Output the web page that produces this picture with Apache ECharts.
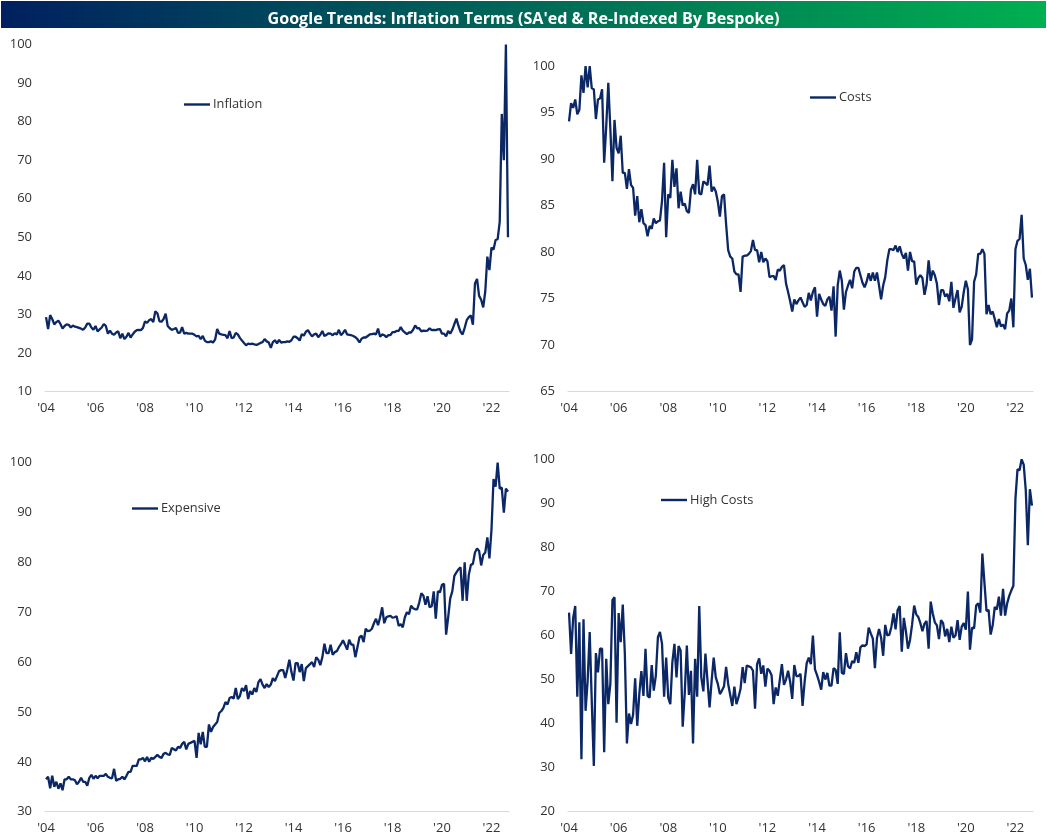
<!DOCTYPE html>
<html lang="en">
<head>
    <meta charset="UTF-8">
    <title>Google Trends: Inflation Terms</title>
    <script src="https://cdn.jsdelivr.net/npm/echarts@6/dist/echarts.min.js"></script>
    <style>
        body { margin: 0; background: #fff; }
        #chart { width: 1047px; height: 838px; }
    </style>
</head>
<body>
<div id="chart"></div>

<script>
    // Monthly readings, Jan 2004 - Sep 2022, one row per year
    var inflation = [
        29.3,26.2,29.8,28.8,27.4,28.0,28.4,27.5,26.3,27.0,27.4,27.3,
        26.6,27.1,26.8,26.7,26.5,26.3,26.0,26.6,27.6,27.6,26.6,26.0,
        27.0,25.6,26.1,26.6,27.5,27.0,25.0,25.8,25.0,24.7,25.3,25.6,
        23.8,25.0,23.6,24.2,25.2,24.0,24.8,25.5,25.9,26.0,25.9,26.5,
        28.2,27.8,28.5,28.8,28.0,30.8,30.3,28.2,28.1,28.8,30.2,27.0,
        26.4,26.0,26.2,26.5,25.2,25.3,26.7,25.0,25.2,25.0,25.0,25.0,
        24.7,24.3,24.4,23.6,24.4,23.2,22.8,22.8,23.0,22.7,23.5,26.2,
        25.0,24.8,24.7,24.6,23.8,25.7,23.8,24.0,25.2,24.8,23.9,23.2,
        22.6,22.0,22.4,22.3,22.4,22.2,22.1,22.3,22.6,22.8,23.6,23.0,
        22.7,21.3,22.8,23.3,22.5,23.4,22.7,22.8,22.8,23.0,22.9,23.3,
        24.2,24.2,23.8,23.2,24.9,24.5,25.5,25.9,25.0,24.3,24.8,25.0,
        24.1,24.7,25.7,24.4,24.7,25.1,25.0,24.6,25.1,24.8,26.0,24.6,
        25.2,26.0,24.8,24.7,24.6,24.4,24.1,23.6,22.7,23.7,24.0,24.0,
        24.4,24.8,24.9,25.0,24.8,26.3,24.2,24.8,24.6,24.1,24.6,24.6,
        25.4,25.4,25.7,25.7,26.7,25.8,25.3,24.9,25.3,25.3,26.0,27.1,
        26.4,26.4,25.6,25.8,25.7,25.8,26.4,25.9,26.0,25.9,26.1,26.2,
        25.0,25.0,24.3,25.7,25.0,26.0,27.5,28.9,27.0,25.5,24.8,26.5,
        28.5,29.3,29.7,27.3,38.0,39.2,34.8,33.8,31.8,36.0,45.0,41.5,
        47.3,46.8,49.3,49.5,54.0,82.0,70.0,100,50.0
    ];
    var costs = [
        94.05,96,95.5,96.4,94.8,95.3,99,97.1,100,97.7,100,97.6,
        97.5,94.3,96.4,96.5,97.5,89.6,93.5,98.2,93.2,87.6,94.2,91.2,
        90.6,92.5,88.5,88.5,86.8,88.9,87.2,86.9,83.9,86,83.2,84.6,
        83.1,82.9,81.7,82.8,82.5,83.6,83.1,83.3,83.4,85.5,89.6,81.6,
        86.2,85.8,89.9,87,89,84.7,86.5,85,85.2,84.4,84.2,86.7,
        87.3,86.2,89.9,86.3,86.2,87.6,87.4,87.2,89.3,86.5,87,86.5,
        85.4,83.8,86,86.2,83,80.2,79.5,79.3,77.9,77.6,77.6,75.7,
        79.5,79.6,79.6,79.8,80.1,81.3,80.2,80.2,78.9,80,78.9,79.3,
        79,77.3,77.4,77.4,77,78.1,78,78.4,78.6,76.6,75.7,74.7,
        73.6,74.9,74.4,74.8,75.1,74.6,74.1,74.3,75.6,74.8,75.7,76.2,
        73.05,75.5,74.9,74.4,74.2,74.9,75.2,73.7,76.3,70.9,76.4,78,
        76.9,73.8,75.7,76.4,77,76.1,77.9,78.3,78.3,77.5,76.7,76.2,
        76.8,77.7,76.9,77.8,76.9,77.8,76.4,74.9,76.4,77.3,79.1,80.3,
        80.3,80.2,80.7,80,80.6,79.8,79.3,79.9,78,80,79,79,
        76.5,77.2,77.5,77.2,75.4,76.5,79.1,76.9,78,77.5,76.6,74.3,
        75.9,75.9,75.2,75.5,74.7,76.8,74,75,75.9,73.5,74.1,75.7,
        76.9,76,70,70.6,76.8,77.6,79.8,79.8,80.3,79.8,73.3,74.3,
        73.3,73.6,72.8,71.9,72.8,72,72.2,71.7,73.4,73.7,75,71.9,
        80.3,81.2,81.4,84,79.3,78.6,77,78.2,75.1
    ];
    var expensive = [
        36.5,37,34.7,37.2,35,36,34.6,35.7,34.3,36.5,36.5,37,
        36.5,36.5,36.3,35.5,36,36.8,36,36,35.2,36.8,37.4,36.6,
        37.2,36.7,37.2,37.2,37.2,37.6,37,36.8,36.7,38.6,36.2,36.5,
        36.6,37,36.5,37.2,38,38,39.2,39.2,39.2,40.5,40.5,40.8,
        40.1,41,40,40.8,40.6,41,41.4,41,40.8,41.6,41.8,41.5,
        41.4,42.8,42.5,42.3,43,42.8,43.6,44,42.5,43.6,43.8,44,
        44.2,40.8,45.8,43.5,46,43,43,47.5,46,47,47.5,48,
        49.8,50.2,50.8,52,51.5,52.8,53,52.7,54.8,52.6,53.2,54.8,
        54.2,55.4,52.6,54.2,53.5,54.8,54,56,56.6,55.5,54.8,55.6,
        55,55.5,56.8,56.2,57.2,58.2,58.4,58.4,56.8,58.5,60.5,58,
        56.3,59.8,59.8,58,59.6,56.2,58.8,59.2,59.6,60,59,61,
        60.5,59.4,61,63.7,61.8,61.8,63.5,61.5,62,62.2,63,63.6,
        64.4,63.5,62.5,64.5,63.5,63.5,61,63,65,65.3,64,66.7,
        66.2,66.3,66.7,67.8,68.7,67.4,69,71,67.8,69,69.2,69.3,
        68.9,69,69.2,67.3,67.6,67,69,70,69.6,71.3,70.8,70.6,
        70.6,72,73.8,73.3,71.5,73.2,71,71.2,74.2,68.7,74.2,74,
        75.5,75.7,65.5,69,72.8,74.2,77.3,78,78.6,79,72.3,80,
        72.3,77.5,79.5,79.7,82,82.8,82.3,79.4,81.5,82,85,80.8,
        86.5,96.7,95.2,100,94.8,95,90,94.8,94.2
    ];
    var highCosts = [
        65.2,55.8,64,66.7,46.1,63,31.9,63.7,42.9,49.7,60.8,45,
        30.4,56,51.6,57,57,33.5,54.7,44.4,49,68,68.7,40.2,
        65.1,58.5,67,55.9,35.5,42.3,39.9,42,50.3,39.5,46.7,51.9,
        46.3,57,46.3,45.9,53.3,47.5,50.9,59.6,60.8,58.1,46.1,55,
        45.9,44.4,53.9,58.1,50.5,57.6,56.6,39.3,47,57.7,46.5,52,
        35.5,54.7,46.1,66.7,50.5,47.3,55.9,49.7,43.7,49.7,55,50.5,
        49,46.7,47.5,48.5,52.9,49,46.5,44,48.4,44.4,46,47.9,
        52.8,49.2,53.2,53,52.8,52,43.4,53.5,54.8,51.3,53.2,48.4,
        52.5,52,51,44.4,48.2,46.3,50,53.5,48.8,50,52,49.5,
        45.6,53.3,50.8,50.8,51.3,44,49.5,53.7,55,53.5,60,52.3,
        51,49.5,47.7,51.7,50,51.5,48.6,48.6,52.6,52.2,49,60.7,
        51.5,51.3,56,53,52.5,54.2,53.8,56.2,53.8,57.3,57.8,57.6,
        58,61.8,60.5,59.3,52.6,59.4,61.5,59.5,55.4,62.4,60,60.2,
        62,65,61.4,65.8,66.7,56.3,64,61,57,59,62.5,66.8,
        64.8,64.2,62.8,61,62.7,63.3,57,67.7,65,63,62.3,59.2,
        63.5,62.8,59.8,61.5,58.5,62,59.5,60,63.5,59,62,62.8,
        61.3,70,56.8,61.8,61.6,66.8,67.3,65.2,78.6,72,65.6,65.8,
        60.2,62.3,66.5,65.9,68.8,64.5,70.6,64.5,67.3,69,70.2,71.3,
        91,97.7,97.5,100,98.8,93,80.5,93.2,89.5
    ];

    var seriesNames = ['Inflation', 'Costs', 'Expensive', 'High Costs'];
    var seriesValues = [inflation, costs, expensive, highCosts];
    var yMins = [10, 65, 30, 20];
    var yMaxs = [100, 100, 100, 100];
    var yIntervals = [10, 5, 10, 10];

    // month labels for the category axis, the axis only prints every other January
    var categories = [];
    for (var y = 2004; y <= 2022; y++) {
        for (var m = 1; m <= 12; m++) {
            if (y === 2022 && m > 9) break;
            categories.push(y + '-' + m);
        }
    }

    var navy = '#0b2765';
    var fontName = '"Open Sans", sans-serif';

    // left, top, width, height of each panel
    var grids = [
        { left: 45, top: 44.5, width: 464, height: 347 },
        { left: 568, top: 66, width: 465, height: 325.5 },
        { left: 45, top: 462.7, width: 464, height: 349 },
        { left: 568, top: 459.3, width: 465, height: 352.4 }
    ];
    var legendSpots = [
        { left: 184, top: 98 },
        { left: 810, top: 91 },
        { left: 132, top: 502 },
        { left: 661, top: 493.5 }
    ];

    var chart = echarts.init(document.getElementById('chart'), null, { renderer: 'canvas' });

    var options = {
        animation: false,
        backgroundColor: '#fff',
        title: {
            text: "Google Trends: Inflation Terms (SA'ed & Re-Indexed By Bespoke)",
            left: 523.5,
            top: 6,
            textAlign: 'center',
            textStyle: { color: '#fff', fontFamily: fontName, fontSize: 16.1, fontWeight: 'bold' }
        },
        graphic: [{
            type: 'rect',
            z: -1,
            shape: { x: 1, y: 1, width: 1045, height: 27 },
            style: {
                fill: new echarts.graphic.LinearGradient(0, 0, 1, 0, [
                    { offset: 0, color: '#002060' },
                    { offset: 1, color: '#00b050' }
                ])
            }
        }],
        grid: grids,
        legend: seriesNames.map(function (name, i) {
            return {
                data: [name],
                left: legendSpots[i].left,
                top: legendSpots[i].top,
                icon: 'rect',
                itemWidth: 26,
                itemHeight: 2.4,
                itemGap: 0,
                padding: 0,
                textStyle: { color: '#333', fontFamily: fontName, fontSize: 12.8, padding: [0, 0, 0, -2] }
            };
        }),
        xAxis: grids.map(function (g, i) {
            return {
                type: 'category',
                gridIndex: i,
                data: categories,
                boundaryGap: true,
                axisLine: { lineStyle: { color: '#d9d9d9', width: 1 } },
                axisTick: { interval: 23, length: 3, lineStyle: { color: '#d9d9d9' } },
                axisLabel: {
                    interval: 23,
                    margin: 10,
                    color: '#333',
                    fontFamily: fontName,
                    fontSize: 13,
                    formatter: function (value) {
                        return "'" + value.slice(2, 4);
                    }
                },
                splitLine: { show: false }
            };
        }),
        yAxis: grids.map(function (g, i) {
            return {
                type: 'value',
                gridIndex: i,
                min: yMins[i],
                max: yMaxs[i],
                interval: yIntervals[i],
                axisLine: { show: false },
                axisTick: { show: false },
                splitLine: { show: false },
                axisLabel: { margin: 13, color: '#333', fontFamily: fontName, fontSize: 13 }
            };
        }),
        series: seriesNames.map(function (name, i) {
            return {
                name: name,
                type: 'line',
                xAxisIndex: i,
                yAxisIndex: i,
                data: seriesValues[i],
                showSymbol: false,
                symbol: 'none',
                lineStyle: { color: navy, width: 2.3 },
                itemStyle: { color: navy }
            };
        })
    };

    options.title.left = 518.5;
    chart.setOption(options);
</script>
</body>
</html>
